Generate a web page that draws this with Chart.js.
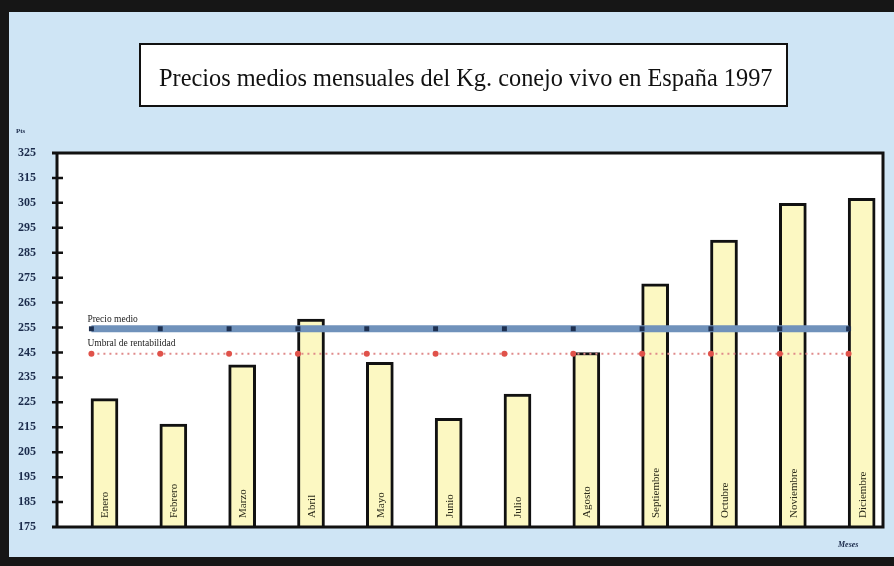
<!DOCTYPE html>
<html>
<head>
<meta charset="utf-8">
<script src="https://cdn.jsdelivr.net/npm/chart.js@4/dist/chart.umd.min.js"></script>
<style>
  body { margin: 0; background: #cfe5f5; }
  #wrap { width: 894px; height: 566px; }
</style>
</head>
<body>
<div id="wrap"><canvas id="chart" width="894" height="566"></canvas></div>
<script>
// Datos del gráfico
const titulo = 'Precios medios mensuales del Kg. conejo vivo en España 1997';
const meses = ['Enero', 'Febrero', 'Marzo', 'Abril', 'Mayo', 'Junio', 'Julio', 'Agosto', 'Septiembre', 'Octubre', 'Noviembre', 'Diciembre'];
const precios = [226.5, 216.3, 240, 258.4, 241, 218.6, 228.3, 245, 272.5, 290.1, 304.8, 306.8];
const precioMedio = [254.5, 254.5, 254.5, 254.5, 254.5, 254.5, 254.5, 254.5, 254.5, 254.5, 254.5, 254.5];
const umbral = [244.5, 244.5, 244.5, 244.5, 244.5, 244.5, 244.5, 244.5, 244.5, 244.5, 244.5, 244.5];
const yMin = 175, yMax = 325, yStep = 10;

const serif = '"Liberation Serif", "DejaVu Serif", serif';

// fondo, marco y cuadro del título
const fondo = {
  id: 'fondo',
  beforeDraw(chart) {
    const ctx = chart.ctx;
    const a = chart.chartArea;
    ctx.save();
    ctx.fillStyle = '#cfe5f5';
    ctx.fillRect(0, 0, chart.width, chart.height);
    // bordes oscuros de la foto
    ctx.fillStyle = '#161616';
    ctx.fillRect(0, 0, chart.width, 12);
    ctx.fillRect(0, 0, 9, chart.height);
    ctx.fillRect(0, 557, chart.width, 9);
    // area del gráfico
    ctx.fillStyle = '#ffffff';
    ctx.fillRect(a.left, a.top, a.right - a.left, a.bottom - a.top);
    // cuadro del título
    ctx.fillStyle = '#ffffff';
    ctx.fillRect(140, 44, 647, 62);
    ctx.lineWidth = 2;
    ctx.strokeStyle = '#111';
    ctx.strokeRect(140, 44, 647, 62);
    ctx.font = '20px ' + serif;
    const w = ctx.measureText(titulo).width;
    const size = 20 * 614 / w;
    ctx.font = size + 'px ' + serif;
    ctx.fillStyle = '#111';
    ctx.textBaseline = 'alphabetic';
    ctx.fillText(titulo, 159, 86);
    ctx.restore();
  }
};

// ejes, marcas y rótulos
const rotulos = {
  id: 'rotulos',
  afterDraw(chart) {
    const ctx = chart.ctx;
    const a = chart.chartArea;
    const y = chart.scales.y;
    ctx.save();
    ctx.strokeStyle = '#111';
    ctx.lineWidth = 3;
    ctx.beginPath();
    ctx.moveTo(52, a.top); ctx.lineTo(a.right, a.top);
    ctx.lineTo(a.right, a.bottom); ctx.lineTo(52, a.bottom);
    ctx.moveTo(a.left, a.top); ctx.lineTo(a.left, a.bottom);
    ctx.stroke();
    ctx.lineWidth = 2.5;
    ctx.beginPath();
    for (let v = yMin + yStep; v < yMax; v += yStep) {
      const py = y.getPixelForValue(v);
      ctx.moveTo(52, py); ctx.lineTo(63, py);
    }
    ctx.stroke();

    // nombres de los meses dentro de las barras
    const meta = chart.getDatasetMeta(2);
    ctx.fillStyle = '#2a2a1a';
    ctx.font = '11px ' + serif;
    ctx.textAlign = 'left';
    ctx.textBaseline = 'middle';
    meta.data.forEach((bar, i) => {
      ctx.save();
      ctx.translate(bar.x + 1, a.bottom - 9);
      ctx.rotate(-Math.PI / 2);
      ctx.fillText(meses[i], 0, 0);
      ctx.restore();
    });

    // rótulos de las líneas
    const x0 = chart.getDatasetMeta(0).data[0].x - 4;
    ctx.font = '9.5px ' + serif;
    ctx.fillStyle = '#222';
    ctx.textBaseline = 'alphabetic';
    ctx.fillText('Precio medio', x0, y.getPixelForValue(precioMedio[0]) - 7);
    ctx.fillText('Umbral de rentabilidad', x0, y.getPixelForValue(umbral[0]) - 8);

    ctx.font = 'bold 7px ' + serif;
    ctx.fillStyle = '#1b2b4b';
    ctx.fillText('Pts', 16, 133);
    ctx.font = 'italic bold 8px ' + serif;
    ctx.fillText('Meses', 838, 547);
    ctx.restore();
  }
};

const puntos = (vals) => vals.map((v, i) => ({ x: i + 1, y: v }));

new Chart(document.getElementById('chart'), {
  type: 'bar',
  data: {
    datasets: [
      {
        type: 'line',
        label: 'Precio medio',
        data: puntos(precioMedio),
        xAxisID: 'x',
        borderColor: '#7092bb',
        borderWidth: 7,
        pointStyle: 'rect',
        pointRadius: 3.5,
        pointBackgroundColor: '#1e3050',
        pointBorderWidth: 0,
        order: 1
      },
      {
        type: 'line',
        label: 'Umbral de rentabilidad',
        data: puntos(umbral),
        xAxisID: 'x',
        borderColor: '#e08a8a',
        borderWidth: 2,
        borderDash: [2, 4],
        pointStyle: 'circle',
        pointRadius: 3,
        pointBackgroundColor: '#e0524a',
        pointBorderWidth: 0,
        order: 2
      },
      {
        type: 'bar',
        label: 'Precio',
        data: puntos(precios),
        xAxisID: 'xb',
        grouped: false,
        backgroundColor: '#fcf8c2',
        borderColor: '#111',
        borderWidth: 3,
        borderSkipped: 'bottom',
        barThickness: 27,
        order: 3
      }
    ]
  },
  options: {
    responsive: false,
    animation: false,
    layout: { padding: { top: 153, right: 11, bottom: 39, left: 0 } },
    plugins: {
      legend: { display: false },
      tooltip: { enabled: false }
    },
    scales: {
      x: { type: 'linear', min: 0.5, max: 12.5, offset: false, display: false },
      xb: { type: 'linear', min: 0.31, max: 12.31, offset: false, display: false },
      y: {
        min: yMin,
        max: yMax,
        ticks: {
          stepSize: yStep,
          padding: 21,
          color: '#1b2b4b',
          font: { family: serif, size: 12, weight: 'bold' }
        },
        grid: { display: false, drawTicks: false },
        border: { display: false },
        afterFit(scale) { scale.width = 57; }
      }
    }
  },
  plugins: [fondo, rotulos]
});
</script>
</body>
</html>
